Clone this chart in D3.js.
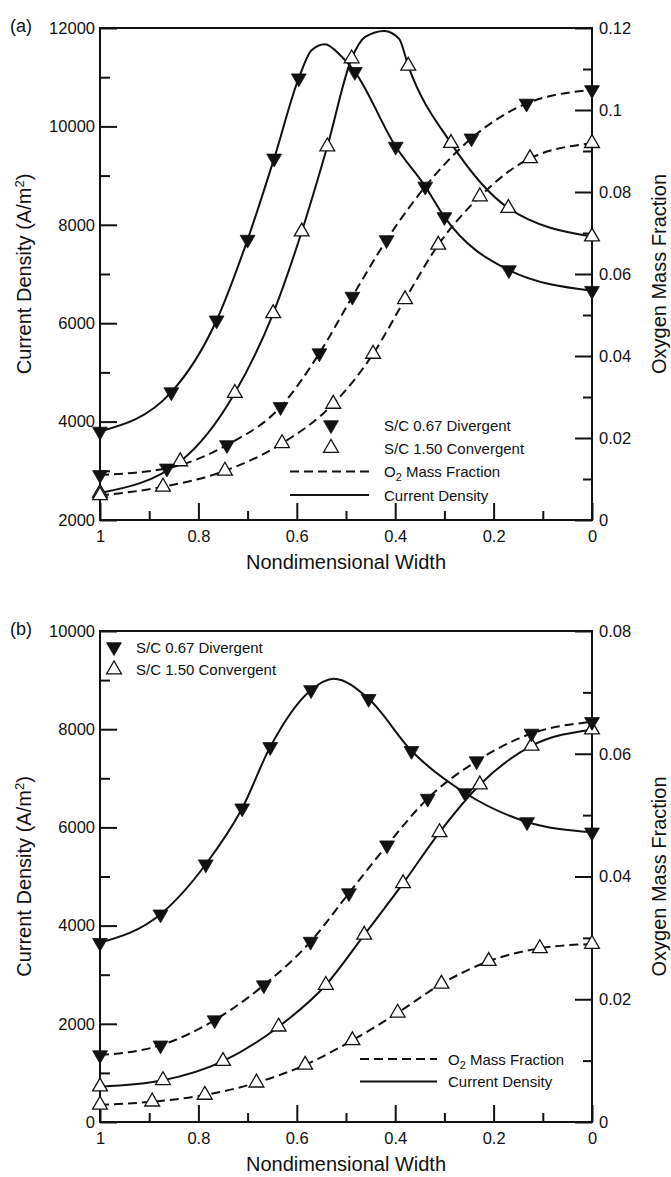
<!DOCTYPE html>
<html>
<head>
  <title>Current density and O2 mass fraction</title>
  <script src="https://cdn.jsdelivr.net/npm/d3@7"></script>
  <style>
    body { margin: 0; background: #fff; font-family: "Liberation Sans", Arial, sans-serif; }
    svg text { fill: #111; }
    .tick text { font-size: 16.5px; }
    .tick line { stroke: #111; stroke-width: 2; }
    .curve { fill: none; stroke: #111; stroke-width: 2; }
    .dash { stroke-dasharray: 9 5; }
  </style>
</head>
<body>
  <div id="chart"></div>
  <script>
    // x = nondimensional width, left axis = current density (A/m2), right axis = O2 mass fraction
    // panel (a)
    const aDivCurX = [1, 0.855, 0.763, 0.700, 0.646, 0.596, 0.482, 0.399, 0.339, 0.300, 0.169, 0];
    const aDivCurY = [3800, 4600, 6060, 7700, 9350, 10980, 11110, 9590, 8780, 8160, 7080, 6660];
    const aDivCurPeak = [[0.570, 11550], [0.543, 11670], [0.509, 11420]];
    const aConCurX = [1, 0.837, 0.726, 0.648, 0.590, 0.538, 0.4885, 0.3735, 0.2866, 0.170, 0];
    const aConCurY = [2550, 3190, 4580, 6200, 7860, 9590, 11380, 11230, 9660, 8340, 7760];
    const aConCurPeak = [[0.461, 11820], [0.422, 11940], [0.392, 11780]];
    const aDivO2X = [1, 0.864, 0.742, 0.633, 0.554, 0.487, 0.4175, 0.245, 0.133, 0];
    const aDivO2Y = [0.0110, 0.0126, 0.0183, 0.0276, 0.0407, 0.0545, 0.0683, 0.0931, 0.1016, 0.1049];
    const aConO2X = [1, 0.872, 0.746, 0.630, 0.526, 0.445, 0.380, 0.3125, 0.228, 0.126, 0];
    const aConO2Y = [0.0060, 0.0081, 0.0120, 0.0187, 0.0283, 0.0405, 0.0538, 0.0671, 0.0789, 0.0882, 0.0919];
    const aLeftTicks = [2000, 4000, 6000, 8000, 10000, 12000];
    const aLeftMinor = [3000, 5000, 7000, 9000, 11000];
    const aRightTicks = [0, 0.02, 0.04, 0.06, 0.08, 0.1, 0.12];
    const aRightMinor = [0.01, 0.03, 0.05, 0.07, 0.09, 0.11];

    // panel (b)
    const bDivCurX = [1, 0.877, 0.785, 0.711, 0.654, 0.571, 0.454, 0.367, 0.258, 0.132, 0];
    const bDivCurY = [3650, 4230, 5250, 6390, 7640, 8800, 8620, 7560, 6700, 6110, 5900];
    const bDivCurPeak = [[0.525, 9030]];
    const bConCurX = [1, 0.872, 0.750, 0.637, 0.541, 0.463, 0.384, 0.310, 0.228, 0.123, 0];
    const bConCurY = [720, 850, 1240, 1940, 2790, 3810, 4860, 5900, 6870, 7660, 7990];
    const bDivO2X = [1, 0.877, 0.767, 0.667, 0.572, 0.494, 0.4165, 0.334, 0.2345, 0.123, 0];
    const bDivO2Y = [0.0109, 0.0125, 0.0166, 0.0223, 0.0294, 0.0373, 0.0451, 0.0527, 0.0588, 0.0633, 0.0652];
    const bConO2X = [1, 0.894, 0.787, 0.682, 0.583, 0.487, 0.395, 0.306, 0.210, 0.106, 0];
    const bConO2Y = [0.0028, 0.0033, 0.0044, 0.0064, 0.0093, 0.0133, 0.0178, 0.0225, 0.0262, 0.0283, 0.0290];
    const bLeftTicks = [0, 2000, 4000, 6000, 8000, 10000];
    const bLeftMinor = [1000, 3000, 5000, 7000, 9000];
    const bRightTicks = [0, 0.02, 0.04, 0.06, 0.08];
    const bRightMinor = [0.01, 0.03, 0.05, 0.07];

    const xTicks = [1, 0.8, 0.6, 0.4, 0.2, 0];
    const xMinor = [0.9, 0.7, 0.5, 0.3, 0.1];

    const svg = d3.select("#chart").append("svg")
      .attr("width", 671).attr("height", 1177);

    const zip = (xs, ys) => xs.map((v, i) => [v, ys[i]]);
    const triUp = d3.symbol(d3.symbolTriangle, 95);

    function drawPanel(p) {
      const g = svg.append("g");
      const x = d3.scaleLinear().domain([1, 0]).range([100, 592]);
      const yL = d3.scaleLinear().domain(p.left).range([p.bottom, p.top]);
      const yR = d3.scaleLinear().domain(p.right).range([p.bottom, p.top]);

      const fmt = d3.format("~g");
      const axes = [
        [d3.axisBottom(x).tickValues(xTicks).tickSizeInner(-17).tickPadding(10).tickFormat(fmt), `translate(0,${p.bottom})`],
        [d3.axisBottom(x).tickValues(xMinor).tickSizeInner(-9).tickFormat(""), `translate(0,${p.bottom})`],
        [d3.axisLeft(yL).tickValues(p.lt).tickSizeInner(-17).tickPadding(5).tickFormat(d3.format("d")), "translate(100,0)"],
        [d3.axisLeft(yL).tickValues(p.lm).tickSizeInner(-10).tickFormat(""), "translate(100,0)"],
        [d3.axisRight(yR).tickValues(p.rt).tickSizeInner(-17).tickPadding(7).tickFormat(fmt), "translate(592,0)"],
        [d3.axisRight(yR).tickValues(p.rm).tickSizeInner(-9).tickFormat(""), "translate(592,0)"]
      ];
      axes.forEach(([ax, tr]) => {
        const a = g.append("g").attr("transform", tr).call(ax.tickSizeOuter(0));
        a.select(".domain").remove();
        a.selectAll(".tick text").attr("fill", "#111").style("font-family", "inherit");
      });

      g.append("rect")
        .attr("x", 100).attr("y", p.top)
        .attr("width", 492).attr("height", p.bottom - p.top)
        .attr("fill", "none").attr("stroke", "#111").attr("stroke-width", 2);

      // titles
      g.append("text").attr("x", 10).attr("y", p.top + 4)
        .attr("font-size", 18).text(p.tag);
      g.append("text").attr("x", 346).attr("y", p.bottom + 49)
        .attr("text-anchor", "middle").attr("font-size", 20).text("Nondimensional Width");
      const mid = (p.top + p.bottom) / 2;
      const lt = g.append("text").attr("transform", `translate(31,${mid}) rotate(-90)`)
        .attr("text-anchor", "middle").attr("font-size", 20);
      lt.append("tspan").text("Current Density (A/m");
      lt.append("tspan").attr("font-size", 13).attr("baseline-shift", "super").text("2");
      lt.append("tspan").text(")");
      g.append("text").attr("transform", `translate(666,${mid}) rotate(-90)`)
        .attr("text-anchor", "middle").attr("font-size", 20).text("Oxygen Mass Fraction");

      // curves and markers
      p.series.forEach(s => {
        const y = s.axis === "L" ? yL : yR;
        const pts = zip(s.xs, s.ys).concat(s.extra || []).sort((a, b) => b[0] - a[0]);
        const line = d3.line().x(d => x(d[0])).y(d => y(d[1])).curve(d3.curveMonotoneX);
        g.append("path").datum(pts)
          .attr("class", s.axis === "R" ? "curve dash" : "curve")
          .attr("d", line);
      });
      p.series.forEach(s => {
        const y = s.axis === "L" ? yL : yR;
        g.append("g").selectAll("path").data(zip(s.xs, s.ys)).join("path")
          .attr("d", triUp)
          .attr("transform", d => `translate(${x(d[0])},${y(d[1])})` + (s.div ? " rotate(180)" : ""))
          .attr("fill", s.div ? "#111" : "#fff")
          .attr("stroke", "#111")
          .attr("stroke-width", s.div ? 0.8 : 1.3);
      });
      return g;
    }

    function legendMarker(g, lx, ly, div, label, tx) {
      g.append("path").attr("d", triUp)
        .attr("transform", `translate(${lx},${ly})` + (div ? " rotate(180)" : ""))
        .attr("fill", div ? "#111" : "#fff").attr("stroke", "#111")
        .attr("stroke-width", div ? 0.8 : 1.3);
      g.append("text").attr("x", tx).attr("y", ly + 5.5)
        .attr("font-size", 15).text(label);
    }
    function legendLine(g, x0, x1, ly, dashed, tx) {
      g.append("line").attr("x1", x0).attr("x2", x1).attr("y1", ly).attr("y2", ly)
        .attr("class", dashed ? "curve dash" : "curve");
      const t = g.append("text").attr("x", tx).attr("y", ly + 5.5).attr("font-size", 15);
      if (dashed) {
        t.append("tspan").text("O");
        t.append("tspan").attr("font-size", 11).attr("dy", 4).text("2");
        t.append("tspan").attr("dy", -4).text(" Mass Fraction");
      } else {
        t.text("Current Density");
      }
    }

    const ga = drawPanel({
      tag: "(a)", top: 28, bottom: 520,
      left: [2000, 12000], right: [0, 0.12],
      lt: aLeftTicks, lm: aLeftMinor, rt: aRightTicks, rm: aRightMinor,
      series: [
        { xs: aDivCurX, ys: aDivCurY, extra: aDivCurPeak, axis: "L", div: true },
        { xs: aConCurX, ys: aConCurY, extra: aConCurPeak, axis: "L", div: false },
        { xs: aDivO2X, ys: aDivO2Y, axis: "R", div: true },
        { xs: aConO2X, ys: aConO2Y, axis: "R", div: false }
      ]
    });
    legendMarker(ga, 331, 425, true, "S/C 0.67 Divergent", 384);
    legendMarker(ga, 331, 448, false, "S/C 1.50 Convergent", 384);
    legendLine(ga, 290, 369, 471.5, true, 384);
    legendLine(ga, 290, 369, 495, false, 384);

    const gb = drawPanel({
      tag: "(b)", top: 631, bottom: 1122,
      left: [0, 10000], right: [0, 0.08],
      lt: bLeftTicks, lm: bLeftMinor, rt: bRightTicks, rm: bRightMinor,
      series: [
        { xs: bDivCurX, ys: bDivCurY, extra: bDivCurPeak, axis: "L", div: true },
        { xs: bConCurX, ys: bConCurY, axis: "L", div: false },
        { xs: bDivO2X, ys: bDivO2Y, axis: "R", div: true },
        { xs: bConO2X, ys: bConO2Y, axis: "R", div: false }
      ]
    });
    legendMarker(gb, 114, 647, true, "S/C 0.67 Divergent", 136);
    legendMarker(gb, 114, 669.5, false, "S/C 1.50 Convergent", 136);
    legendLine(gb, 360, 437, 1059, true, 448);
    legendLine(gb, 360, 437, 1081.5, false, 448);
  </script>
</body>
</html>
